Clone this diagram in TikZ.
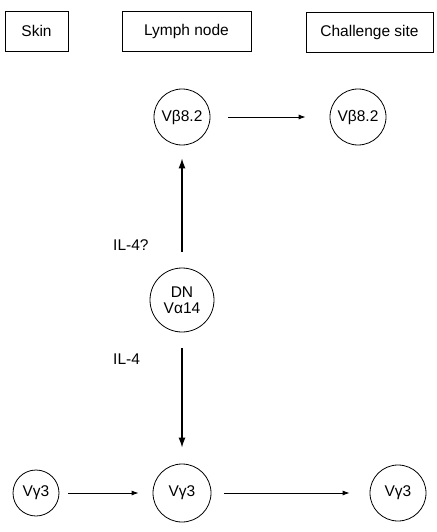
\documentclass[tikz,border=0pt]{standalone}
\usepackage{fontspec}
\setmainfont{Liberation Sans}
\usetikzlibrary{arrows.meta}
\begin{document}
\begin{tikzpicture}[x=1pt,y=-1pt,
  every node/.style={font=\fontsize{15.5}{18}\selectfont},
  hdr/.style={draw,line width=0.8pt,minimum height=40pt,inner sep=0pt},
  cell/.style={draw,circle,line width=0.8pt,inner sep=0pt,align=center},
  harr/.style={-{Latex[length=7pt,width=5pt]},line width=0.8pt},
  varr/.style={-{Latex[length=10pt,width=7pt]},line width=1.3pt},
  lab/.style={anchor=west,inner sep=0pt}]
\useasboundingbox (0,0) rectangle (436,532);
\node[hdr,minimum width=63pt] (skin) at (36.5,31) {Skin};
\node[hdr,minimum width=129pt] (lymph) at (186.5,31) {Lymph node};
\node[hdr,minimum width=127pt] (chal) at (369.5,32) {Challenge site};
\node[cell,minimum size=56pt] (vb1) at (182,117) {Vβ8.2};
\node[cell,minimum size=56pt] (vb2) at (358,117) {Vβ8.2};
\node[cell,minimum size=64pt] (dn) at (182,300) {DN\\[-2pt]Vα14};
\node[cell,minimum size=46pt] (g1) at (36,493) {Vγ3};
\node[cell,minimum size=58pt] (g2) at (182,493) {Vγ3};
\node[cell,minimum size=56pt] (g3) at (398,493) {Vγ3};
\node[lab] (il4q) at (113,245) {IL-4?};
\node[lab] (il4) at (113,359) {IL-4};
\draw[harr,shorten <=18pt,shorten >=24pt] (vb1) -- (vb2);
\draw[varr,shorten <=16pt,shorten >=13pt] (dn) -- (vb1);
\draw[varr,shorten <=16pt,shorten >=16pt] (dn) -- (g2);
\draw[harr,shorten <=9pt,shorten >=14pt] (g1) -- (g2);
\draw[harr,shorten <=13pt,shorten >=20pt] (g2) -- (g3);
\end{tikzpicture}
\end{document}
